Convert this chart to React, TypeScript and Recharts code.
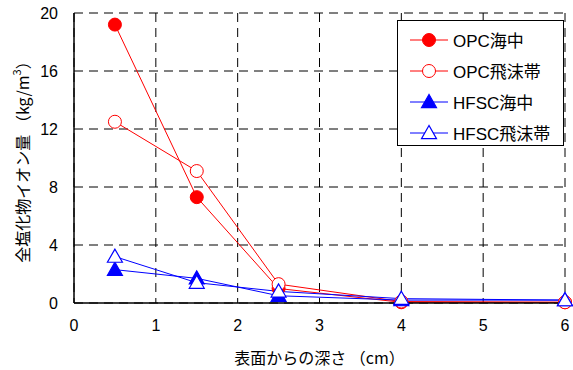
import React from "react";
import {
  LineChart,
  Line,
  XAxis,
  YAxis,
  CartesianGrid,
} from "recharts";

const depths = [0.5, 1.5, 2.5, 4, 6];
const opcSea = [19.2, 7.3, 1.0, 0.05, 0.05];
const opcSplash = [12.5, 9.1, 1.3, 0.1, 0.05];
const hfscSea = [2.3, 1.7, 0.5, 0.2, 0.2];
const hfscSplash = [3.2, 1.4, 0.8, 0.3, 0.2];
const xTicks = [0, 1, 2, 3, 4, 5, 6];
const yTicks = [0, 4, 8, 12, 16, 20];

const data = depths.map((d, i) => ({
  depth: d,
  opcSea: opcSea[i],
  opcSplash: opcSplash[i],
  hfscSea: hfscSea[i],
  hfscSplash: hfscSplash[i],
}));

const RED = "#FF0000";
const BLUE = "#0000FF";
const font = "'Liberation Sans', Arial, sans-serif";
const jpFont = "'Noto Sans CJK JP', sans-serif";

type Shape = "circle" | "triangle";

function Marker({ cx, cy, color, filled, shape }: any) {
  if (cx == null || cy == null) return null;
  if (shape === "circle") {
    return (
      <circle cx={cx} cy={cy} r={6.5} fill={filled ? color : "#fff"} stroke={color} strokeWidth={1} />
    );
  }
  const s = 7.5;
  const pts = `${cx},${cy - s} ${cx - s},${cy + s * 0.75} ${cx + s},${cy + s * 0.75}`;
  return <polygon points={pts} fill={filled ? color : "#fff"} stroke={color} strokeWidth={1.2} />;
}

const series: { key: string; name: string; color: string; filled: boolean; shape: Shape }[] = [
  { key: "opcSea", name: "OPC海中", color: RED, filled: true, shape: "circle" },
  { key: "opcSplash", name: "OPC飛沫帯", color: RED, filled: false, shape: "circle" },
  { key: "hfscSea", name: "HFSC海中", color: BLUE, filled: true, shape: "triangle" },
  { key: "hfscSplash", name: "HFSC飛沫帯", color: BLUE, filled: false, shape: "triangle" },
];

// legend drawn outside recharts so it doesn't push the plot area down
function LegendBox() {
  return (
    <div
      style={{
        position: "absolute",
        left: 397,
        top: 20,
        width: 167,
        height: 126,
        background: "#fff",
        border: "1px solid #000",
        boxSizing: "border-box",
        paddingTop: 3,
      }}
    >
      {series.map((s) => (
        <div key={s.key} style={{ display: "flex", alignItems: "center", height: 31 }}>
          <svg width={54} height={20} style={{ marginLeft: 10 }}>
            <line x1={2} y1={10} x2={40} y2={10} stroke={s.color} strokeWidth={1} />
            <Marker cx={21} cy={10} color={s.color} filled={s.filled} shape={s.shape} />
          </svg>
          <span style={{ fontFamily: font, fontSize: 17, color: "#000", marginLeft: -9, whiteSpace: "nowrap" }}>
            {s.name.replace(/[^A-Z]/g, "")}
            <span style={{ fontFamily: jpFont }}>{s.name.replace(/[A-Z]/g, "")}</span>
          </span>
        </div>
      ))}
    </div>
  );
}

function YLabel({ viewBox }: any) {
  const x = 22;
  const y = viewBox ? viewBox.y + viewBox.height / 2 : 158;
  return (
    <text
      x={x}
      y={y}
      transform={`rotate(-90, ${x}, ${y})`}
      textAnchor="middle"
      dominantBaseline="central"
      fontSize={16}
      fill="#000"
      fontFamily={jpFont}
    >
      全塩化物イオン量 （kg/m
      <tspan fontSize={11} dy={-6}>3</tspan>
      <tspan dy={6}>）</tspan>
    </text>
  );
}

export default function App() {
  return (
    <div style={{ position: "absolute", left: 0, top: 0, width: 573, height: 370, background: "#fff" }}>
      <LineChart
        width={573}
        height={370}
        data={data}
        margin={{ top: 13, right: 8, left: 0, bottom: 0 }}
      >
        <CartesianGrid stroke="#000" strokeDasharray="9 6" strokeWidth={1} />
        <XAxis
          dataKey="depth"
          type="number"
          domain={[0, 6]}
          ticks={xTicks}
          height={67}
          tickSize={0}
          tickMargin={17}
          tick={{ fontSize: 16, fill: "#000", fontFamily: font }}
          axisLine={{ stroke: "#000", strokeWidth: 1.5 }}
          label={{
            value: "表面からの深さ （cm）",
            position: "insideBottom",
            offset: 6,
            fontSize: 16,
            fill: "#000",
            fontFamily: jpFont,
          }}
        />
        <YAxis
          type="number"
          domain={[0, 20]}
          ticks={yTicks}
          width={74}
          tickSize={0}
          tickMargin={16}
          tick={{ fontSize: 16, fill: "#000", fontFamily: font }}
          axisLine={{ stroke: "#000", strokeWidth: 1.5 }}
          label={<YLabel />}
        />
        {series.map((s) => (
          <Line
            key={s.key}
            dataKey={s.key}
            name={s.name}
            type="linear"
            stroke={s.color}
            strokeWidth={1}
            isAnimationActive={false}
            dot={(p: any) => (
              <Marker key={`${s.key}-${p.index}`} cx={p.cx} cy={p.cy} color={s.color} filled={s.filled} shape={s.shape} />
            )}
            activeDot={false}
          />
        ))}
      </LineChart>
      <LegendBox />
    </div>
  );
}
